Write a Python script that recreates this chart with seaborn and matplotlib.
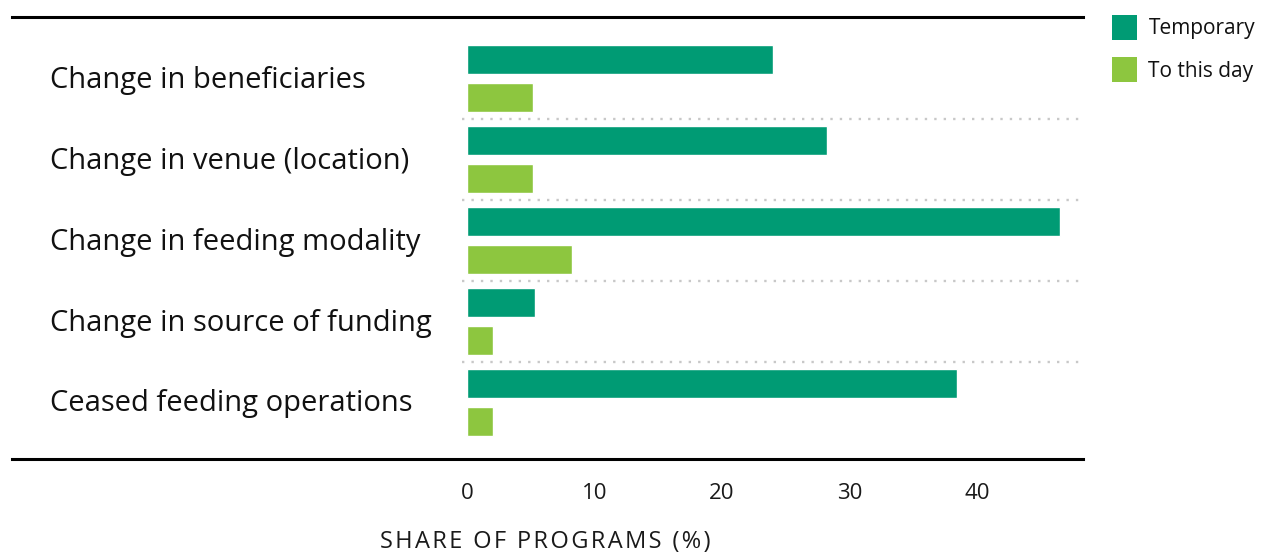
import numpy as np
import pandas as pd
import matplotlib
matplotlib.use("Agg")
import matplotlib.pyplot as plt
from matplotlib.patches import Patch
import seaborn as sns

# Data
categories = [
    "Change in beneficiaries",
    "Change in venue (location)",
    "Change in feeding modality",
    "Change in source of funding",
    "Ceased feeding operations",
]
temporary = [24.0, 28.2, 46.5, 5.3, 38.4]
to_this_day = [5.2, 5.2, 8.2, 2.0, 2.0]
series_names = ["Temporary", "To this day"]
x_ticks = [0, 10, 20, 30, 40]
x_label = "SHARE OF PROGRAMS (%)"

colors = ["#009B74", "#8DC63F"]

sns.set_theme(style="white")
plt.rcParams["font.family"] = ["Open Sans", "DejaVu Sans"]

df = pd.DataFrame({
    "category": categories * 2,
    "share": temporary + to_this_day,
    "series": [series_names[0]] * len(categories) + [series_names[1]] * len(categories),
})

W, H = 1261, 553
fig = plt.figure(figsize=(W / 100, H / 100), dpi=100)
left_px, right_px, top_px, bottom_px = 12, 1083, 17, 459
ax = fig.add_axes([left_px / W, 1 - bottom_px / H,
                   (right_px - left_px) / W, (bottom_px - top_px) / H])

sns.barplot(data=df, y="category", x="share", hue="series", orient="h",
            palette=colors, saturation=1, width=0.94, gap=0.24,
            legend=False, ax=ax)

# x scale: zero sits at pixel 467, 12.75 px per percentage point
zero_px, ppu = 467, 12.75
ax.set_xlim((left_px - zero_px) / ppu, (right_px - zero_px) / ppu)
ax.set_ylim(4.70, -0.76)

ax.set_xticks(x_ticks)
ax.set_xticklabels([str(t) for t in x_ticks], fontsize=16, color="#1a1a1a")
ax.tick_params(axis="x", length=0, pad=17)
ax.set_yticks([])
ax.set_xlabel("")
ax.set_ylabel("")

for side in ["left", "right"]:
    ax.spines[side].set_visible(False)
for side in ["top", "bottom"]:
    ax.spines[side].set_color("black")
    ax.spines[side].set_linewidth(2.2)

# dotted separators between categories
for i in range(len(categories) - 1):
    ax.hlines(i + 0.5, -0.4, ax.get_xlim()[1], colors="#c8c8c8",
              linestyles=(0, (1, 3)), linewidth=1.7, zorder=0)

# category labels, left-aligned
for i, cat in enumerate(categories):
    ax.text((50 - left_px) / (right_px - left_px), i + 0.02, cat,
            transform=ax.get_yaxis_transform(), ha="left", va="center",
            fontsize=21, color="#111111")

# axis title with slight letter spacing
spaced = "\u200a".join(x_label)
fig.text(545 / W, 1 - 542 / H, spaced, ha="center", va="center",
         fontsize=17, color="#1a1a1a")

handles = [Patch(facecolor=c, edgecolor="none") for c in colors]
fig.legend(handles, series_names, loc="upper left",
           bbox_to_anchor=(1112 / W, 1 - 15 / H), frameon=False,
           fontsize=15, handlelength=1.2, handleheight=1.45,
           handletextpad=0.55, labelspacing=0.85, borderaxespad=0,
           borderpad=0, labelcolor="#111111")

fig.savefig("out.png", dpi=100)
